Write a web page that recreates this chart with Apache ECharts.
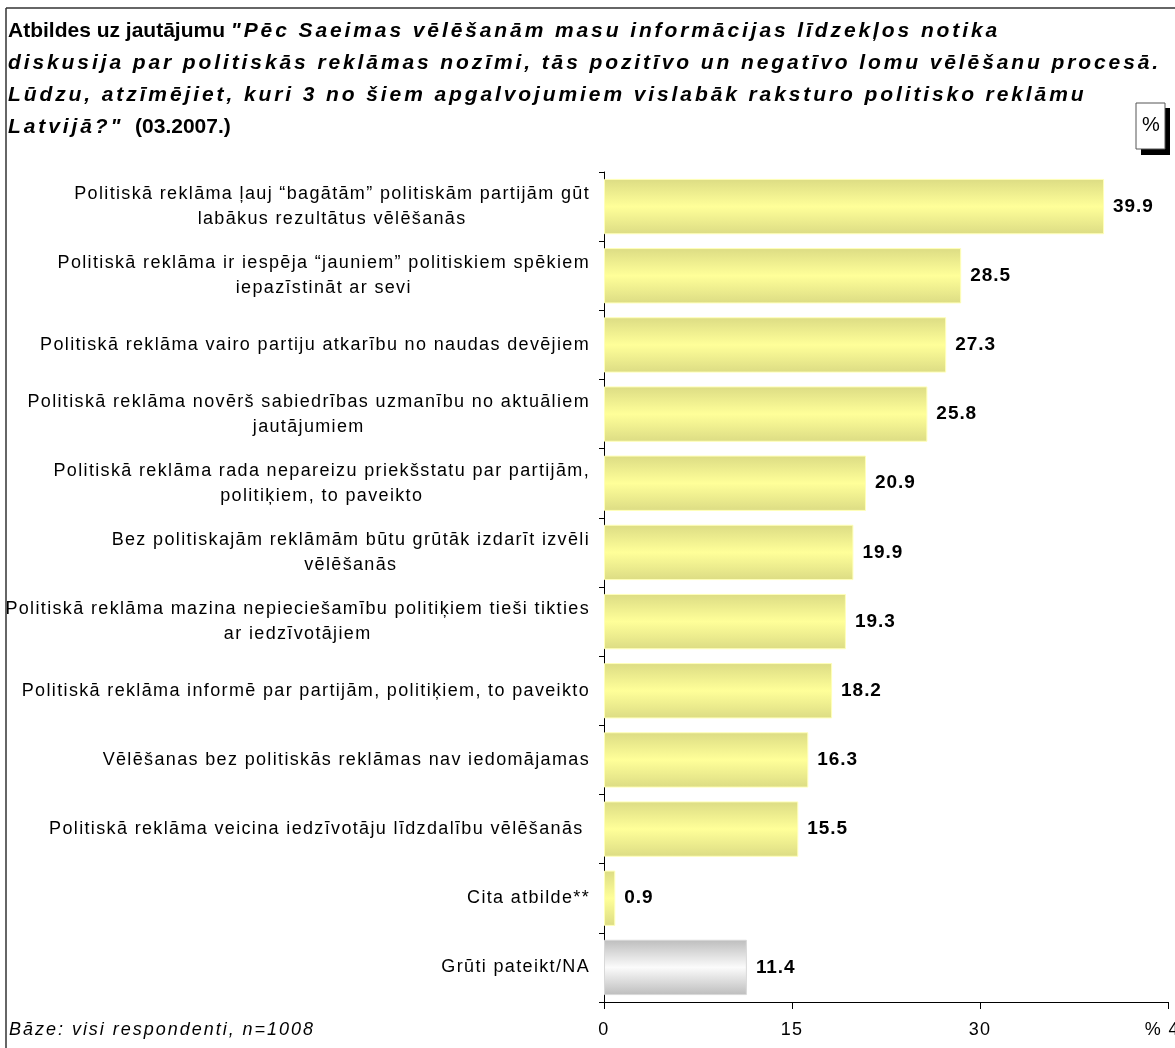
<!DOCTYPE html>
<html><head><meta charset="utf-8">
<script src="https://cdn.jsdelivr.net/npm/echarts@6/dist/echarts.min.js"></script>
<style>html,body{margin:0;padding:0;background:#fff}#c{width:1175px;height:1048px}</style>
</head><body><div id="c"></div>
<script>
var categories = [
  'Politiskā reklāma ļauj “bagātām” politiskām partijām gūt\nlabākus rezultātus vēlēšanās',
  'Politiskā reklāma ir iespēja “jauniem” politiskiem spēkiem\niepazīstināt ar sevi',
  'Politiskā reklāma vairo partiju atkarību no naudas devējiem',
  'Politiskā reklāma novērš sabiedrības uzmanību no aktuāliem\njautājumiem',
  'Politiskā reklāma rada nepareizu priekšstatu par partijām,\npolitiķiem, to paveikto',
  'Bez politiskajām reklāmām būtu grūtāk izdarīt izvēli\nvēlēšanās',
  'Politiskā reklāma mazina nepieciešamību politiķiem tieši tikties\nar iedzīvotājiem',
  'Politiskā reklāma informē par partijām, politiķiem, to paveikto',
  'Vēlēšanas bez politiskās reklāmas nav iedomājamas',
  'Politiskā reklāma veicina iedzīvotāju līdzdalību vēlēšanās ',
  'Cita atbilde**',
  'Grūti pateikt/NA'
];
var values = [39.9, 28.5, 27.3, 25.8, 20.9, 19.9, 19.3, 18.2, 16.3, 15.5, 0.9, 11.4];
var highlightLast = [false, false, false, false, false, false, false, false, false, false, false, true];
var tickLabels = ['0', '15', '30', '% 45'];
var titleLines = [
  ['Atbildes uz jautājumu ', '"Pēc Saeimas vēlēšanām masu informācijas līdzekļos notika'],
  ['', 'diskusija par politiskās reklāmas nozīmi, tās pozitīvo un negatīvo lomu vēlēšanu procesā.'],
  ['', 'Lūdzu, atzīmējiet, kuri 3 no šiem apgalvojumiem vislabāk raksturo politisko reklāmu'],
  ['', 'Latvijā?"', '  (03.2007.)']
];
var footnote = 'Bāze: visi respondenti, n=1008';

// slightly wider glyph advance, like the reference rendering
(function () {
  function spacing(font) {
    var m = /(\d+(?:\.\d+)?)px/.exec(font);
    var fs = m ? +m[1] : 12;
    var it = /italic/.test(font), bd = /bold/.test(font);
    if (it && bd) return fs * 0.138;
    if (it) return fs * 0.11;
    if (bd) return fs >= 20 ? 0 : fs * 0.05;
    if (fs >= 20) return 0;
    return fs * 0.075;
  }
  ['fillText', 'strokeText', 'measureText'].forEach(function (fn) {
    var orig = CanvasRenderingContext2D.prototype[fn];
    CanvasRenderingContext2D.prototype[fn] = function () {
      try { this.letterSpacing = spacing(this.font) + 'px'; } catch (e) {}
      return orig.apply(this, arguments);
    };
  });
})();

var FONT = '"Liberation Sans", Arial, sans-serif';
var yellowGrad = new echarts.graphic.LinearGradient(0, 0, 0, 1, [
  {offset: 0, color: '#dcdc84'}, {offset: 0.5, color: '#ffff99'}, {offset: 1, color: '#dcdc84'}]);
var grayGrad = new echarts.graphic.LinearGradient(0, 0, 0, 1, [
  {offset: 0, color: '#bdbdbd'}, {offset: 0.5, color: '#fbfbfb'}, {offset: 1, color: '#bdbdbd'}]);

var titleText = titleLines.map(function (l) {
  var s = '';
  if (l[0]) s += '{b|' + l[0] + '}';
  s += '{bi|' + l[1] + '}';
  if (l[2]) s += '{b|' + l[2] + '}';
  return s;
}).join('\n');

var chart = echarts.init(document.getElementById('c'), null, {renderer: 'canvas'});
chart.setOption({
  animation: false,
  backgroundColor: '#fff',
  title: {
    text: titleText, left: 8, top: 15, padding: 0,
    textStyle: {
      lineHeight: 32,
      rich: {
        b: {fontFamily: FONT, fontSize: 21, fontWeight: 'bold', color: '#000', lineHeight: 32},
        bi: {fontFamily: FONT, fontSize: 21, fontWeight: 'bold', fontStyle: 'italic', color: '#000', lineHeight: 32}
      }
    }
  },
  grid: {left: 604, right: 7, top: 172, bottom: 46, containLabel: false, outerBoundsMode: 'none'},
  xAxis: {
    type: 'value', min: 0, max: 45, interval: 15,
    axisLine: {show: true, lineStyle: {color: '#000', width: 1}},
    axisTick: {show: true, length: 7, lineStyle: {color: '#000'}},
    splitLine: {show: false},
    axisLabel: {
      margin: 18, fontFamily: FONT, fontSize: 18, color: '#000', hideOverlap: false,
      formatter: function (v) { return tickLabels[Math.round(v / 15)]; }
    }
  },
  yAxis: {
    type: 'category', data: categories, inverse: true,
    axisLine: {show: true, lineStyle: {color: '#000', width: 1}},
    axisTick: {show: true, length: 5, lineStyle: {color: '#000'}},
    axisLabel: {
      margin: 14, fontFamily: FONT, fontSize: 18, color: '#000', lineHeight: 25, interval: 0,
      formatter: function (v) {
        return v.split('\n').map(function (t) { return '{c|' + t + '}'; }).join('\n');
      },
      rich: {c: {align: 'center', fontFamily: FONT, fontSize: 18, color: '#000', lineHeight: 25}}
    }
  },
  series: [{
    type: 'bar',
    data: values.map(function (v, i) {
      return {value: v, itemStyle: {color: highlightLast[i] ? grayGrad : yellowGrad,
        borderColor: highlightLast[i] ? '#d8d8d8' : '#ffffb8', borderWidth: 1}};
    }),
    barCategoryGap: '20%',
    label: {
      show: true, position: 'right', distance: 9,
      fontFamily: FONT, fontSize: 19, fontWeight: 'bold', color: '#000',
      formatter: function (p) { return p.value.toFixed(1); }
    }
  }],
  graphic: [
    {type: 'line', shape: {x1: 6, y1: 8, x2: 1175, y2: 8}, style: {stroke: '#333', lineWidth: 1.5}},
    {type: 'line', shape: {x1: 6, y1: 8, x2: 6, y2: 1048}, style: {stroke: '#333', lineWidth: 1.5}},
    {type: 'rect', shape: {x: 1141, y: 108, width: 29, height: 47}, style: {fill: '#000'}},
    {type: 'rect', shape: {x: 1136, y: 103, width: 29, height: 46}, style: {fill: '#fff', stroke: '#555', lineWidth: 1}},
    {type: 'text', left: 1142, top: 115, style: {text: '%', font: '20px ' + FONT, fill: '#000'}},
    {type: 'text', left: 9, top: 1020, style: {text: footnote, font: 'italic 18px ' + FONT, fill: '#000'}}
  ]
});
</script>
</body></html>
